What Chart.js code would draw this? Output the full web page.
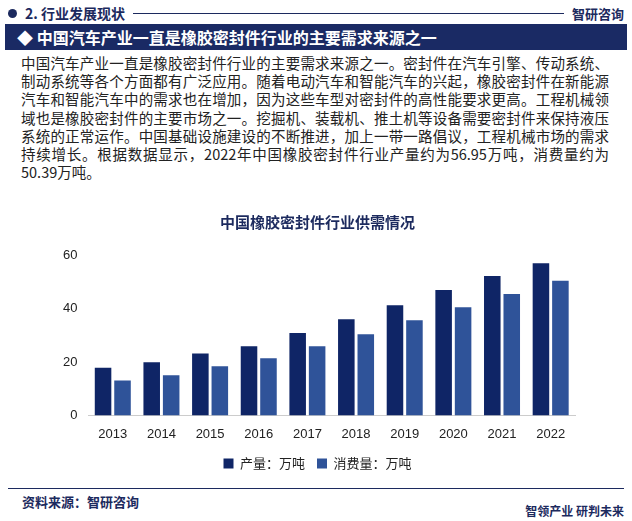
<!DOCTYPE html>
<html><head><meta charset="utf-8">
<script src="https://cdn.jsdelivr.net/npm/chart.js@4/dist/chart.umd.min.js"></script>
<style>
body{margin:0;width:632px;height:521px;background:#fff;font-family:"Noto Sans CJK SC","Noto Sans",sans-serif;position:relative;overflow:hidden}
#hdr{position:absolute;left:8px;top:3px;font-size:14px;font-weight:bold;color:#1c2a5e;display:flex;align-items:center;width:616px}
#hdr .dot{width:9px;height:9px;border-radius:50%;background:#1c2a5e;margin-right:8px}
#hdr .line{flex:1;height:1px;background:#1c2a5e;margin:0 8px}
#hdr .logo{font-size:13px}
#bar{position:absolute;left:5px;top:24px;width:622px;height:26px;background:#1a2a64;color:#fff;font-size:16px;font-weight:bold;line-height:26px}
#bar span{margin-left:12px}
#txt{position:absolute;left:21px;top:54px;width:588px;font-size:14.5px;line-height:18.2px;color:#222}
#txt div{text-align:justify;text-align-last:justify;white-space:nowrap}
#txt div.l{text-align-last:left}
#wrap{position:absolute;left:60px;top:210px;width:520px;height:270px}
#foot{position:absolute;left:8px;top:488px;width:616px;border-top:1px solid #1c2a5e}
#foot .s{position:absolute;left:14px;top:3px;font-size:13px;font-weight:bold;color:#1c2a5e}
#br{position:absolute;right:8px;top:502px;font-size:12px;font-weight:bold;color:#1c2a5e}
</style></head><body>
<div id="hdr"><div class="dot"></div>2. 行业发展现状<div class="line"></div><div class="logo">智研咨询</div></div>
<div id="bar"><span>◆ 中国汽车产业一直是橡胶密封件行业的主要需求来源之一</span></div>
<div id="txt">
<div>中国汽车产业一直是橡胶密封件行业的主要需求来源之一。密封件在汽车引擎、传动系统、</div>
<div>制动系统等各个方面都有广泛应用。随着电动汽车和智能汽车的兴起，橡胶密封件在新能源</div>
<div>汽车和智能汽车中的需求也在增加，因为这些车型对密封件的高性能要求更高。工程机械领</div>
<div>域也是橡胶密封件的主要市场之一。挖掘机、装载机、推土机等设备需要密封件来保持液压</div>
<div>系统的正常运作。中国基础设施建设的不断推进，加上一带一路倡议，工程机械市场的需求</div>
<div>持续增长。根据数据显示，2022年中国橡胶密封件行业产量约为56.95万吨，消费量约为</div>
<div class="l">50.39万吨。</div>
</div>
<div id="wrap"><canvas id="c"></canvas></div>
<div id="foot"><div class="s">资料来源：智研咨询</div></div>
<div id="br">智领产业 研判未来</div>
<script>
const years=["2013","2014","2015","2016","2017","2018","2019","2020","2021","2022"];
const production=[17.8,19.9,23.2,25.9,30.8,36.0,41.2,46.9,52.1,56.95];
const consumption=[13.1,15.0,18.4,21.4,25.9,30.4,35.6,40.5,45.4,50.39];
new Chart(document.getElementById('c'),{type:'bar',
data:{labels:years,datasets:[
{label:'产量：万吨',data:production,backgroundColor:'#0f2566'},
{label:'消费量：万吨',data:consumption,backgroundColor:'#2f5399'}]},
options:{responsive:true,maintainAspectRatio:false,animation:false,
layout:{padding:{left:0,right:5}},
plugins:{title:{display:true,text:'中国橡胶密封件行业供需情况',color:'#1c2a5e',font:{size:15,weight:'bold',family:'Noto Sans CJK SC'},padding:{top:3,bottom:24}},
legend:{position:'bottom',labels:{boxWidth:10,boxHeight:10,color:'#222',font:{size:13,family:'Noto Sans CJK SC'},padding:12}}},
scales:{x:{grid:{display:false},border:{color:'#ccc'},ticks:{color:'#222',font:{size:13}}},
y:{min:0,max:60,ticks:{stepSize:20,color:'#222',font:{size:13}},grid:{display:false},border:{display:false}}},
datasets:{bar:{categoryPercentage:0.8,barPercentage:0.85}}}});
</script></body></html>
